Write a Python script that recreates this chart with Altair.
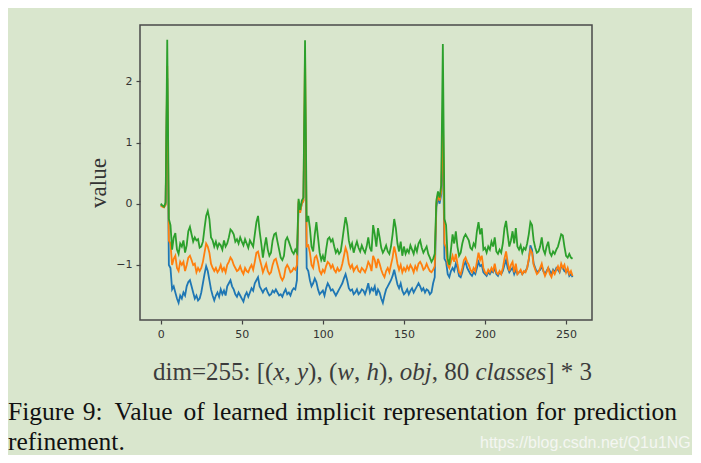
import altair as alt
import pandas as pd

# ---------------- data ----------------
# each anchor block: 4 box values (x, y, w, h), 1 objectness value, 80 class values
seg1_green = [0.0, -0.03, -0.05, 0.02, 2.68,
              -0.25, -0.35, -0.75, -0.55, -0.48, -0.75, -0.82, -0.65, -0.7, -0.6,
              -0.8, -0.68, -0.45, -0.38, -0.5, -0.62, -0.55, -0.6, -0.58, -0.72,
              -0.7, -0.62, -0.4, -0.2, -0.12, -0.25, -0.55, -0.6, -0.7, -0.62,
              -0.72, -0.65, -0.68, -0.75, -0.6, -0.7, -0.65, -0.55, -0.42, -0.45,
              -0.5, -0.62, -0.58, -0.65, -0.55, -0.62, -0.68, -0.58, -0.65, -0.72,
              -0.6, -0.65, -0.7, -0.5, -0.3, -0.2, -0.45, -0.65, -0.88, -0.7,
              -0.55, -0.75, -0.85, -0.8, -0.6, -0.5, -0.48, -0.62, -0.75, -0.88,
              -0.92, -0.85, -0.6, -0.55, -0.62, -0.7, -0.78, -0.82, -0.75, -0.8]
seg1_orange = [-0.03, -0.05, -0.06, -0.02, 2.25,
               -0.6, -0.65, -1.0, -0.9, -0.85, -1.05, -1.1, -0.95, -1.0, -0.95,
               -1.1, -1.0, -0.88, -0.85, -0.92, -1.0, -0.98, -1.12, -1.05, -1.1,
               -1.05, -0.95, -0.8, -0.65, -0.7, -0.8, -0.98, -1.05, -1.1, -1.05,
               -1.12, -1.08, -1.0, -1.1, -1.05, -1.12, -1.0, -0.95, -0.88, -0.92,
               -1.0, -1.05, -1.1, -1.08, -1.02, -1.1, -1.15, -1.05, -1.1, -1.12,
               -1.05, -1.0, -1.08, -0.95, -0.8, -0.78, -0.9, -1.0, -1.12, -1.05,
               -0.98, -1.1, -1.15, -1.12, -1.0, -0.92, -0.9, -1.0, -1.1, -1.2,
               -1.25, -1.2, -1.05, -1.0, -1.05, -1.12, -1.1, -1.05, -1.08, -1.0]
seg1_blue = [-0.02, -0.04, -0.05, -0.01, 2.05,
             -1.0, -1.05, -1.4, -1.35, -1.45, -1.55, -1.62, -1.5, -1.55, -1.45,
             -1.5, -1.35, -1.28, -1.25, -1.35, -1.45, -1.55, -1.5, -1.58, -1.55,
             -1.45, -1.3, -1.15, -1.02, -1.1, -1.25, -1.4, -1.5, -1.58, -1.5,
             -1.45, -1.52, -1.4, -1.48, -1.42, -1.5, -1.35, -1.3, -1.25, -1.35,
             -1.4, -1.48, -1.52, -1.45, -1.5, -1.55, -1.6, -1.5, -1.45, -1.52,
             -1.45, -1.38, -1.42, -1.3, -1.25, -1.2, -1.35, -1.4, -1.45, -1.4,
             -1.38, -1.45, -1.5, -1.48, -1.42, -1.45, -1.4, -1.45, -1.5, -1.48,
             -1.52, -1.45, -1.4, -1.48, -1.45, -1.5, -1.42, -1.38, -1.4, -1.25]

seg2_green = [0.08, -0.1, 0.05, 0.1, 2.67,
              -0.3, -0.2, -0.4, -0.7, -0.78, -0.5, -0.3, -0.55, -0.8, -0.92,
              -0.85, -0.95, -0.75, -0.58, -0.55, -0.62, -0.58, -0.7, -0.8, -0.75,
              -0.82, -0.78, -0.6, -0.4, -0.22, -0.35, -0.6, -0.72, -0.65, -0.8,
              -0.7, -0.62, -0.72, -0.78, -0.68, -0.75, -0.8, -0.7, -0.55, -0.72,
              -0.78, -0.35, -0.5, -0.7, -0.4, -0.55, -0.72, -0.8, -0.75, -0.68,
              -0.78, -0.82, -0.7, -0.5, -0.25, -0.4, -0.65, -0.78, -0.62, -0.85,
              -0.7, -0.82, -0.75, -0.8, -0.68, -0.75, -0.82, -0.7, -0.78, -0.65,
              -0.6, -0.72, -0.8, -0.75, -0.7, -0.82, -0.88, -0.95, -0.9, -0.82]
seg2_orange = [0.05, -0.15, 0.0, 0.05, 2.5,
               -0.7, -0.68, -0.8, -1.0, -1.05, -0.88, -0.85, -0.95, -1.1, -1.15,
               -1.08, -1.12, -1.02, -0.95, -0.98, -1.05, -1.0, -1.08, -1.12, -1.05,
               -1.1, -1.08, -0.98, -0.85, -0.72, -0.8, -0.98, -1.05, -1.0, -1.1,
               -1.05, -1.02, -1.1, -1.12, -1.05, -1.08, -1.12, -1.05, -0.95, -1.0,
               -1.1, -0.85, -0.92, -1.05, -0.9, -0.98, -1.08, -1.15, -1.2, -1.1,
               -1.05, -1.12, -1.0, -0.88, -0.7, -0.82, -0.98, -1.08, -1.0, -1.12,
               -1.05, -1.1, -1.02, -1.08, -1.0, -1.05, -1.12, -1.02, -1.08, -0.98,
               -0.95, -1.0, -1.08, -1.05, -0.98, -1.05, -1.1, -1.12, -1.08, -1.02]
seg2_blue = [0.02, -0.12, 0.0, 0.05, 1.8,
             -1.05, -1.1, -1.25, -1.35, -1.3, -1.22, -1.28, -1.4, -1.48, -1.45,
             -1.42, -1.5, -1.38, -1.3, -1.35, -1.42, -1.4, -1.45, -1.5, -1.45,
             -1.4, -1.35, -1.3, -1.22, -1.15, -1.25, -1.38, -1.42, -1.4, -1.48,
             -1.45, -1.4, -1.48, -1.45, -1.4, -1.42, -1.48, -1.4, -1.3, -1.45,
             -1.38, -1.42, -1.35, -1.5, -1.4, -1.45, -1.55, -1.62, -1.5, -1.4,
             -1.35, -1.3, -1.25, -1.18, -1.08, -1.2, -1.32, -1.38, -1.3, -1.42,
             -1.48, -1.45, -1.4, -1.48, -1.42, -1.38, -1.45, -1.4, -1.35, -1.3,
             -1.35, -1.42, -1.38, -1.45, -1.4, -1.42, -1.48, -1.45, -1.3, -1.2]

seg3_green = [0.05, 0.2, 0.1, 0.3, 2.61,
              -0.25, -0.35, -0.9, -1.0, -0.75, -0.5, -0.65, -0.45, -0.7, -0.85,
              -0.8, -0.65, -0.55, -0.5, -0.55, -0.6, -0.72, -0.75, -0.65, -0.7,
              -0.45, -0.3, -0.5, -0.4, -0.75, -0.72, -0.8, -0.7, -0.75, -0.62,
              -0.7, -0.55, -0.78, -0.82, -0.75, -0.8, -0.65, -0.4, -0.28, -0.5,
              -0.7, -0.6, -0.45, -0.65, -0.4, -0.7, -0.75, -0.68, -0.8, -0.72,
              -0.75, -0.65, -0.5, -0.3, -0.35, -0.6, -0.72, -0.8, -0.78, -0.7,
              -0.55, -0.75, -0.82, -0.7, -0.62, -0.8, -0.85, -0.78, -0.82, -0.75,
              -0.7, -0.6, -0.5, -0.52, -0.7, -0.85, -0.88, -0.82, -0.88, -0.9]
seg3_orange = [0.0, 0.15, 0.05, 0.2, 1.56,
               -0.65, -0.72, -1.0, -1.05, -0.95, -0.85, -0.95, -0.82, -0.98, -1.12,
               -1.15, -1.05, -0.92, -0.88, -0.95, -1.0, -1.08, -1.12, -1.05, -1.1,
               -0.95, -0.8, -0.92, -0.85, -1.05, -1.12, -1.15, -1.08, -1.12, -1.05,
               -1.1, -0.98, -1.12, -1.15, -1.1, -1.15, -1.05, -0.9, -0.78, -0.95,
               -1.1, -1.0, -0.95, -1.12, -0.98, -1.15, -1.12, -1.08, -1.15, -1.1,
               -1.12, -1.05, -0.9, -0.75, -0.8, -1.0, -1.08, -1.15, -1.12, -1.05,
               -0.98, -1.1, -1.18, -1.12, -1.05, -1.15, -1.2, -1.1, -1.15, -1.08,
               -1.02, -1.1, -0.98, -1.05, -1.0, -1.12, -1.05, -1.15, -1.1, -1.18]
seg3_blue = [-0.05, 0.1, 0.0, 0.15, 1.1,
             -0.9, -0.95, -1.15, -1.2, -1.1, -1.05, -1.1, -0.98, -1.05, -1.18,
             -1.2, -1.12, -1.0, -0.95, -1.05, -1.1, -1.15, -1.18, -1.12, -1.15,
             -1.05, -0.95, -1.02, -1.0, -1.12, -1.15, -1.18, -1.12, -1.15, -1.1,
             -1.12, -1.05, -1.15, -1.18, -1.12, -1.15, -1.1, -1.0, -0.92, -1.05,
             -1.12, -1.08, -1.05, -1.15, -1.08, -1.15, -1.12, -1.1, -1.15, -1.12,
             -1.1, -1.05, -0.92, -0.68, -0.75, -0.98, -1.05, -1.12, -1.1, -1.08,
             -1.02, -1.1, -1.15, -1.1, -1.05, -1.1, -1.15, -1.08, -1.12, -1.05,
             -1.08, -1.12, -1.02, -1.05, -1.1, -1.12, -1.08, -1.18, -1.15, -1.2]

x_ticks = [0, 50, 100, 150, 200, 250]
y_ticks = [-1, 0, 1, 2]
series_names = ["blue", "orange", "green"]
series_colors = ["#1f77b4", "#ff7f0e", "#2ca02c"]

# ---------------- table ----------------
vals = {
    "blue": seg1_blue + seg2_blue + seg3_blue,
    "orange": seg1_orange + seg2_orange + seg3_orange,
    "green": seg1_green + seg2_green + seg3_green,
}
rows = []
for name in series_names:
    for i, v in enumerate(vals[name]):
        rows.append({"dim": i, "value": v, "series": name})
df = pd.DataFrame(rows)

BG = "#d9e6cd"
PL, PT = 140, 25          # page position of plot area
W, H = 452, 295

xscale = alt.Scale(domain=[-12.8, 266], nice=False, zero=False)
yscale = alt.Scale(domain=[-1.9, 2.92], nice=False, zero=False)
axis_style = dict(title=None, grid=False, domain=False,
                  tickColor="#444", tickSize=4, tickWidth=1.2,
                  labelFont="DejaVu Sans", labelFontSize=11, labelColor="#333",
                  labelPadding=4)
xaxis = alt.Axis(values=x_ticks, **axis_style)
yaxis = alt.Axis(values=y_ticks, **axis_style)

layers = []
for name, col in zip(series_names, series_colors):
    layers.append(
        alt.Chart(df).transform_filter(alt.datum.series == name)
        .mark_line(color=col, strokeWidth=1.8, clip=True).encode(
            x=alt.X("dim:Q", scale=xscale, axis=xaxis),
            y=alt.Y("value:Q", scale=yscale, axis=yaxis),
            order="dim:Q",
        )
    )


def txt(s, px, py, size=25, font="Liberation Serif", style="normal",
        color="#111", angle=0, align="left", baseline="alphabetic"):
    return alt.Chart(alt.Data(values=[{"t": s}])).mark_text(
        font=font, fontSize=size, fontStyle=style, color=color, angle=angle,
        align=align, baseline=baseline
    ).encode(x=alt.value(px - PL), y=alt.value(py - PT), text="t:N")


# y axis title
layers.append(txt("value", 99, 183, size=23, color="#333", angle=270,
                  align="center", baseline="middle"))

# x label with mixed italics: (text, italic, em width at Times metrics)
pieces = [("dim=255: [(", False, 4.814), ("x", True, 0.444), (",", False, 0.5),
          ("y", True, 0.444), ("), (", False, 1.166), ("w", True, 0.667),
          (",", False, 0.5), ("h", True, 0.5), ("),", False, 0.833),
          ("obj", True, 1.278), (", 80", False, 1.75), ("classes", True, 2.833),
          ("] * 3", False, 1.833)]
cx = 153.0
fs = 25
for s, it, em in pieces:
    layers.append(txt(s, cx, 380, size=fs, style="italic" if it else "normal",
                      color="#3c3c3c"))
    cx += em * fs

# caption: justified first line, word by word (word, em width, gap factor after)
cap_fs = 25.5
words = [("Figure", 2.611, 1.0), ("9:", 0.778, 1.5), ("Value", 2.388, 1.0),
         ("of", 0.833, 1.0), ("learned", 2.943, 1.0), ("implicit", 3.112, 1.0),
         ("representation", 5.665, 1.0), ("for", 1.166, 1.0), ("prediction", 4.055, 0.0)]
line_left, line_right = 8.0, 677.0
natural = sum(em for _, em, _ in words) * cap_fs
gap = (line_right - line_left - natural) / sum(g for _, _, g in words)
cx = line_left
for w_, em, g in words:
    layers.append(txt(w_, cx, 420, size=cap_fs))
    cx += em * cap_fs + g * gap
layers.append(txt("refinement.", 8, 450, size=cap_fs))
layers.append(txt("https://blog.csdn.net/Q1u1NG", 480, 448, size=16,
                  font="Liberation Sans", color="#f4f6f2"))

chart = alt.layer(*layers).properties(
    width=W, height=H,
    padding={"left": PL - 8, "top": PT - 8, "right": 100, "bottom": 135},
    autosize=alt.AutoSizeParams(type="none"),
    background=BG,
).configure_view(stroke="#4a4a4a", strokeWidth=1.5)

chart.save("out.html", embed_options={"renderer": "svg", "actions": False})
